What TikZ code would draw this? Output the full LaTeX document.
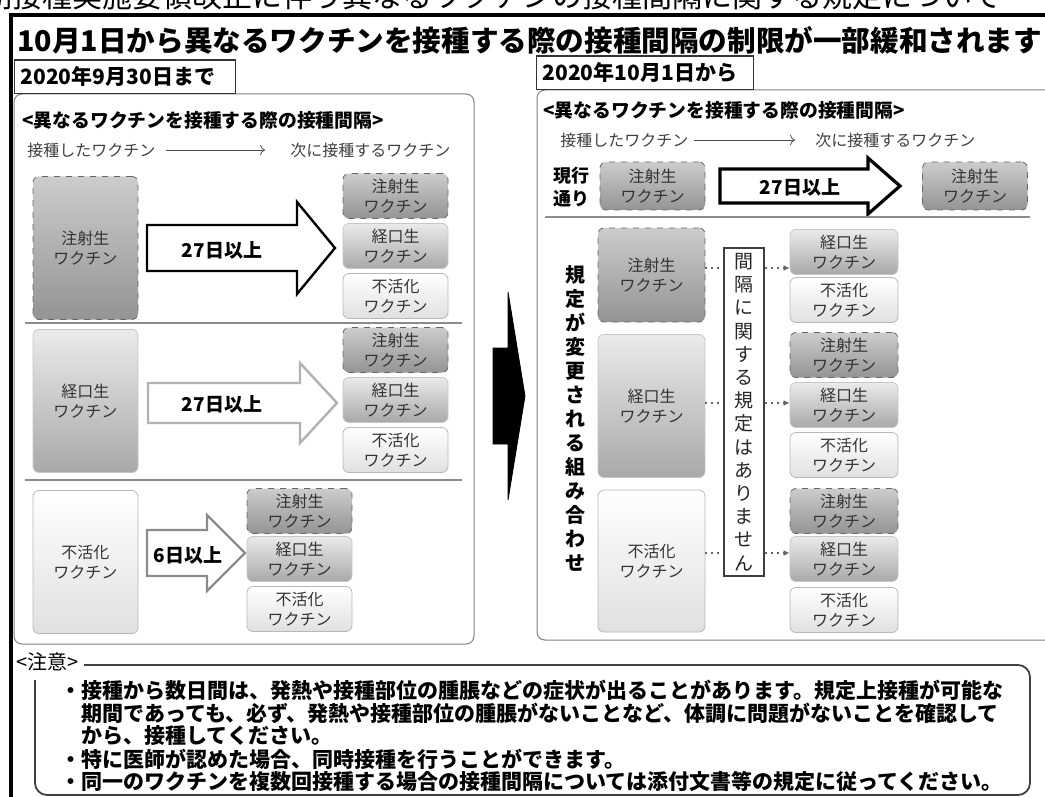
\documentclass[tikz,border=0pt]{standalone}
\usepackage{fontspec}
\setmainfont{Noto Sans CJK JP}
\usetikzlibrary{arrows.meta}

\tikzset{
  txt/.style={inner sep=0pt, text=black!75, font=\fontsize{8}{10}\selectfont},
  boldtxt/.style={inner sep=0pt, align=center, font=\bfseries\fontsize{9}{11.5}\selectfont},
  vac/.style={rounded corners=3pt, align=center, inner sep=0pt, text=black!80, font=\fontsize{8}{10}\selectfont},
  inj/.style={vac, draw=black!60, dashed, top color=black!20, bottom color=black!42},
  oral/.style={vac, draw=black!22, top color=black!8, bottom color=black!34},
  inact/.style={vac, draw=black!28, top color=white, bottom color=black!12},
  bigvac/.style={minimum width=52.5pt, minimum height=71.5pt},
  smallvac/.style={minimum width=52.5pt, minimum height=22.5pt},
  fat/.style={fill=white, line width=1.2pt, line join=miter},
  daytxt/.style={inner sep=0pt, font=\bfseries\fontsize{9.5}{11}\selectfont},
  datebox/.style={draw=black!80, line width=0.6pt, fill=white, inner xsep=3pt, minimum height=13pt, align=left, font=\bfseries\fontsize{10.5}{12}\selectfont},
  panel/.style={draw=black!50, line width=0.5pt, rounded corners=4pt},
  sepline/.style={draw=black!45, line width=0.6pt},
  rulebox/.style={draw=black!75, line width=0.6pt, fill=white, inner sep=0pt, minimum width=20pt, minimum height=164pt, align=center, text=black!85, font=\fontsize{9.5}{11.6}\selectfont},
  dotline/.style={draw=black!60, line width=1pt, dotted},
  dotarrow/.style={dotline, -{Latex[length=3pt,width=3pt]}},
  notebox/.style={draw=black!75, line width=0.9pt, rounded corners=6pt},
  noteline/.style={anchor=west, inner sep=0pt, font=\bfseries\fontsize{10.5}{11}\selectfont}
}

\newcommand{\fatarrow}[7]{\draw[#1] (#2,#5-#6) -- (#3,#5-#6) -- (#3,#5-#7) -- (#4,#5) -- (#3,#5+#7) -- (#3,#5+#6) -- (#2,#5+#6) -- cycle;}

\begin{document}
\begin{tikzpicture}[x=0.5pt,y=-0.5pt]
\useasboundingbox (0,0) rectangle (1045,797);
\node[anchor=base west, inner sep=0pt, font=\fontsize{15}{15}\selectfont] (toptxt) at (-48,8) {定期接種実施要領改正に伴う異なるワクチンの接種間隔に関する規定について};
\draw[line width=1.6pt] (11,830) -- (11,15) -- (1080,15);
\node[anchor=west, inner sep=0pt, font=\bfseries\fontsize{14.3}{15}\selectfont] (title) at (17,40) {10月1日から異なるワクチンを接種する際の接種間隔の制限が一部緩和されます};

\draw[panel] (14,94) rectangle (474,644);
\node[datebox, text width=104.5pt, anchor=south west] (before) at (14,94) {2020年9月30日まで};
\node[anchor=west, inner sep=0pt, font=\bfseries\fontsize{9.4}{11}\selectfont] (lhead) at (22,120) {<異なるワクチンを接種する際の接種間隔>};
\node[txt, anchor=west] (lfrom) at (27,150) {接種したワクチン};
\node[txt, anchor=west] (lto) at (290,150) {次に接種するワクチン};
\draw[black!70, ->, shorten <=5pt, shorten >=12.5pt] (lfrom) -- (lto);

\node[inj, bigvac] (linj) at (85.5,248) {注射生\\ワクチン};
\node[inj, smallvac] (linj1) at (395.5,196) {注射生\\ワクチン};
\node[oral, smallvac] (linj2) at (395.5,246) {経口生\\ワクチン};
\node[inact, smallvac] (linj3) at (395.5,296) {不活化\\ワクチン};
\fatarrow{fat, draw=black}{147}{297}{335}{248}{23}{46}
\node[daytxt] (d1) at (222,250) {27日以上};
\draw[sepline] (25,323) -- (462,323);

\node[oral, bigvac] (lora) at (85.5,401) {経口生\\ワクチン};
\node[inj, smallvac] (lora1) at (395.5,350) {注射生\\ワクチン};
\node[oral, smallvac] (lora2) at (395.5,400) {経口生\\ワクチン};
\node[inact, smallvac] (lora3) at (395.5,450) {不活化\\ワクチン};
\fatarrow{fat, draw=black!30}{148}{300}{337}{403}{20}{40}
\node[daytxt] (d2) at (222,404) {27日以上};
\draw[sepline] (25,480) -- (462,480);

\node[inact, bigvac] (lina) at (85.5,562) {不活化\\ワクチン};
\node[inj, smallvac] (lina1) at (299.5,511) {注射生\\ワクチン};
\node[oral, smallvac] (lina2) at (299.5,559) {経口生\\ワクチン};
\node[inact, smallvac] (lina3) at (299.5,609) {不活化\\ワクチン};
\fatarrow{fat, draw=black!45}{147}{207}{245}{553}{23}{38}
\node[daytxt] (d3) at (188,555) {6日以上};

\fatarrow{fill=black}{493}{508}{525}{396}{48}{104}

\draw[panel] (537,90) rectangle (1075,640);
\node[datebox, text width=102.5pt, anchor=south west] (after) at (536,90) {2020年10月1日から};
\node[anchor=west, inner sep=0pt, font=\bfseries\fontsize{9.4}{11}\selectfont] (rhead) at (543,110) {<異なるワクチンを接種する際の接種間隔>};
\node[txt, anchor=west] (rfrom) at (560,140) {接種したワクチン};
\node[txt, anchor=west] (rto) at (815,140) {次に接種するワクチン};
\draw[black!70, ->, shorten <=2.5pt, shorten >=10pt] (rfrom) -- (rto);

\node[boldtxt] (now) at (571,187) {現行\\通り};
\node[inj, minimum width=52.5pt, minimum height=24pt] (rnow) at (652.5,186) {注射生\\ワクチン};
\node[inj, minimum width=52.5pt, minimum height=24pt] (rnext) at (975,186) {注射生\\ワクチン};
\fatarrow{fat, draw=black, line width=1.6pt}{720}{868}{900}{186}{17}{28}
\node[daytxt] (d4) at (800,187) {27日以上};
\draw[sepline] (545,217) -- (1030,217);

\node[boldtxt, font=\bfseries\fontsize{10}{12}\selectfont] (changed) at (575,418) {規\\定\\が\\変\\更\\さ\\れ\\る\\組\\み\\合\\わ\\せ};
\node[inj, minimum width=53.5pt, minimum height=47pt] (rinj) at (651.5,275) {注射生\\ワクチン};
\node[oral, minimum width=53.5pt, minimum height=71.5pt] (rora) at (651.5,406) {経口生\\ワクチン};
\node[inact, minimum width=53.5pt, minimum height=71pt] (rina) at (651.5,561) {不活化\\ワクチン};
\node[rulebox] (norule) at (744,412) {間\\隔\\に\\関\\す\\る\\規\\定\\は\\あ\\り\\ま\\せ\\ん};

\node[oral, smallvac, minimum width=54pt] (rinj1) at (844,252) {経口生\\ワクチン};
\node[inact, smallvac, minimum width=54pt] (rinj2) at (844,300) {不活化\\ワクチン};
\node[inj, smallvac, minimum width=54pt] (rora1) at (844,355) {注射生\\ワクチン};
\node[oral, smallvac, minimum width=54pt] (rora2) at (844,405) {経口生\\ワクチン};
\node[inact, smallvac, minimum width=54pt] (rora3) at (844,455) {不活化\\ワクチン};
\node[inj, smallvac, minimum width=54pt] (rina1) at (844,511) {注射生\\ワクチン};
\node[oral, smallvac, minimum width=54pt] (rina2) at (844,559) {経口生\\ワクチン};
\node[inact, smallvac, minimum width=54pt] (rina3) at (844,610) {不活化\\ワクチン};

\draw[dotline] ([yshift=3.5pt]rinj.east) -- ([yshift=3.5pt]rinj.east -| norule.west);
\draw[dotarrow] ([yshift=3.5pt]rinj.east -| norule.east) -- ([yshift=3.5pt]rinj.east -| rinj1.west);
\draw[dotline] ([yshift=1.5pt]rora.east) -- ([yshift=1.5pt]rora.east -| norule.west);
\draw[dotarrow] ([yshift=1.5pt]rora.east -| norule.east) -- ([yshift=1.5pt]rora.east -| rora2.west);
\draw[dotline] ([yshift=4pt]rina.east) -- ([yshift=4pt]rina.east -| norule.west);
\draw[dotarrow] ([yshift=4pt]rina.east -| norule.east) -- ([yshift=4pt]rina.east -| rina2.west);

\node[anchor=west, inner sep=0pt, font=\fontsize{10}{11}\selectfont] (caution) at (16,662) {<注意>};
\draw[notebox] (84,665) -- (1030,665) -- (1030,795) -- (35,795) -- (35,680);
\node[noteline] (note1) at (60,690) {・接種から数日間は、発熱や接種部位の腫脹などの症状が出ることがあります。規定上接種が可能な};
\node[noteline] (note2) at (81,713) {期間であっても、必ず、発熱や接種部位の腫脹がないことなど、体調に問題がないことを確認して};
\node[noteline] (note3) at (81,736) {から、接種してください。};
\node[noteline] (note4) at (60,759) {・特に医師が認めた場合、同時接種を行うことができます。};
\node[noteline] (note5) at (60,781) {・同一のワクチンを複数回接種する場合の接種間隔については添付文書等の規定に従ってください。};
\end{tikzpicture}
\end{document}
